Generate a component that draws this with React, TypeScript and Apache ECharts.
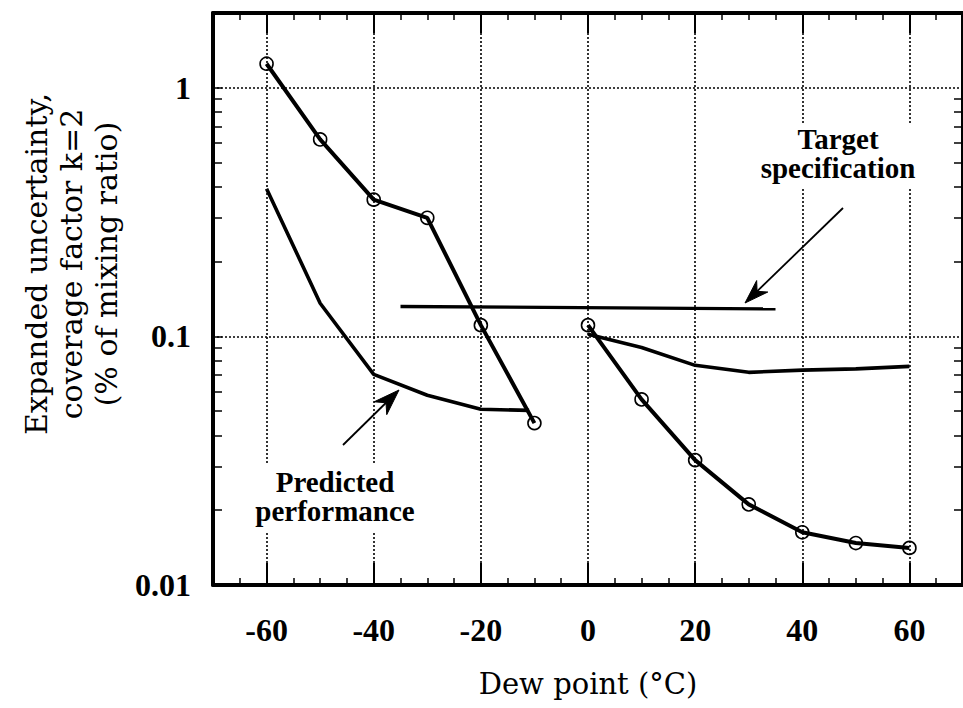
import React, { useEffect, useRef } from "react";
import * as echarts from "echarts";

// ---- data ----
const xTickLabels = [-60, -40, -20, 0, 20, 40, 60];
const yTickLabels = [0.01, 0.1, 1];
const yMinorTicks = [0.02, 0.03, 0.04, 0.05, 0.06, 0.07, 0.08, 0.09, 0.2, 0.3, 0.4, 0.5, 0.6, 0.7, 0.8, 0.9, 2];

const measuredDewLow = [-60, -50, -40, -30, -20, -10];
const measuredLow = [1.25, 0.62, 0.355, 0.3, 0.111, 0.0448];
const measuredDewHigh = [0, 10, 20, 30, 40, 50, 60];
const measuredHigh = [0.111, 0.0558, 0.0318, 0.0211, 0.0163, 0.01475, 0.0141];
const predictedDewLow = [-60, -50, -40, -30, -20, -11];
const predictedLow = [0.393, 0.136, 0.0704, 0.058, 0.0509, 0.0504];
const predictedDewHigh = [0, 10, 20, 30, 40, 50, 60];
const predictedHigh = [0.102, 0.0903, 0.0765, 0.0717, 0.0732, 0.074, 0.0758];
const targetDew = [-35, 35];
const targetSpec = [0.132, 0.129];

const pairs = (xs: number[], ys: number[]) => xs.map((x, i) => [x, ys[i]]);

const BLACK = "#000";
const tickFont = { fontFamily: "Liberation Serif", fontWeight: "bold" as const, fontSize: 32, color: BLACK };
const dotted = { type: [2, 2] as number[], color: BLACK, width: 1.6 };
const noLine = { show: false, onZero: false };

function arrow(x1: number, y1: number, x2: number, y2: number, len: number, half: number) {
  const dx = x2 - x1, dy = y2 - y1;
  const L = Math.hypot(dx, dy);
  const ux = dx / L, uy = dy / L;
  const nx = -uy, ny = ux;
  const bx = x2 - ux * len, by = y2 - uy * len;
  const mx = x2 - ux * len * 0.7, my = y2 - uy * len * 0.7;
  return [
    { type: "line", z: 60, shape: { x1, y1, x2: mx, y2: my }, style: { stroke: BLACK, lineWidth: 1.8 } },
    {
      type: "polygon", z: 61,
      shape: { points: [[x2, y2], [bx + nx * half, by + ny * half], [mx, my], [bx - nx * half, by - ny * half]] },
      style: { fill: BLACK, stroke: BLACK, lineWidth: 1 },
    },
  ];
}

const lineSeries = (name: string, data: number[][], withSymbols: boolean, width: number) => ({
  type: "line",
  name,
  data,
  xAxisIndex: 0,
  yAxisIndex: 0,
  symbol: withSymbols ? "circle" : "none",
  symbolSize: 13,
  showSymbol: withSymbols,
  itemStyle: { color: "rgba(0,0,0,0)", borderColor: BLACK, borderWidth: 1.6 },
  lineStyle: { color: BLACK, width },
  z: 5,
});

const annotationStyle = {
  fontFamily: "Liberation Serif", fontWeight: "bold", fontSize: 29, lineHeight: 29,
  fill: BLACK, align: "center", verticalAlign: "middle",
};

export default function App() {
  const ref = useRef<HTMLDivElement>(null);
  useEffect(() => {
    if (!ref.current) return;
    const chart = echarts.init(ref.current, null, { renderer: "svg" });
    const option: any = {
      animation: false,
      backgroundColor: "#fff",
      grid: { left: 213, right: -4, top: 13, bottom: 123, containLabel: false },
      xAxis: [
        {
          type: "value", position: "bottom", min: -70, max: 70,
          axisLine: { show: true, onZero: false, lineStyle: { color: BLACK, width: 4 } },
          axisTick: { show: true, inside: true, length: 22, customValues: xTickLabels, lineStyle: { color: BLACK, width: 2 } },
          axisLabel: { show: true, customValues: xTickLabels, margin: 29, ...tickFont, formatter: (v: number) => String(v) },
          splitLine: { show: true, lineStyle: dotted },
          name: "Dew point (°C)", nameLocation: "middle", nameGap: 84,
          nameTextStyle: { fontFamily: "DejaVu Serif", fontSize: 29, color: BLACK },
        },
        {
          type: "value", position: "bottom", min: -70, max: 70, interval: 5,
          axisLine: noLine,
          axisTick: { show: true, inside: true, length: 7, lineStyle: { color: BLACK, width: 1.5 } },
          axisLabel: { show: false }, splitLine: { show: false },
        },
        {
          type: "value", position: "top", min: -70, max: 70,
          axisLine: { show: true, onZero: false, lineStyle: { color: BLACK, width: 4 } },
          axisTick: { show: true, inside: true, length: 20, customValues: xTickLabels, lineStyle: { color: BLACK, width: 2 } },
          axisLabel: { show: false }, splitLine: { show: false },
        },
        {
          type: "value", position: "top", min: -70, max: 70, interval: 5,
          axisLine: noLine,
          axisTick: { show: true, inside: true, length: 7, lineStyle: { color: BLACK, width: 1.5 } },
          axisLabel: { show: false }, splitLine: { show: false },
        },
      ],
      yAxis: [
        {
          type: "log", logBase: 10, min: 0.01, max: 2, position: "left",
          axisLine: { show: true, onZero: false, lineStyle: { color: BLACK, width: 4 } },
          axisTick: { show: true, inside: true, length: 9, customValues: yTickLabels, lineStyle: { color: BLACK, width: 1.5 } },
          axisLabel: { show: true, customValues: yTickLabels, margin: 22, ...tickFont, formatter: (v: number) => String(v) },
          splitLine: { show: true, lineStyle: dotted },
        },
        {
          type: "log", logBase: 10, min: 0.01, max: 2, position: "left",
          axisLine: noLine,
          axisTick: { show: true, inside: true, length: 9, customValues: yMinorTicks, lineStyle: { color: BLACK, width: 1.5 } },
          axisLabel: { show: false }, splitLine: { show: false },
        },
        {
          type: "log", logBase: 10, min: 0.01, max: 2, position: "right",
          axisLine: { show: true, onZero: false, lineStyle: { color: BLACK, width: 4 } },
          axisTick: { show: true, inside: true, length: 9, customValues: yMinorTicks, lineStyle: { color: BLACK, width: 1.5 } },
          axisLabel: { show: false }, splitLine: { show: false },
        },
      ],
      series: [
        lineSeries("Predicted low", pairs(predictedDewLow, predictedLow), false, 3.6),
        lineSeries("Predicted high", pairs(predictedDewHigh, predictedHigh), false, 3.6),
        lineSeries("Target specification", pairs(targetDew, targetSpec), false, 3.4),
        lineSeries("Measured low", pairs(measuredDewLow, measuredLow), true, 4),
        lineSeries("Measured high", pairs(measuredDewHigh, measuredHigh), true, 4),
      ],
      graphic: [
        { type: "rect", z: 50, shape: { x: 772, y: 123, width: 152, height: 65 }, style: { fill: "#fff" } },
        { type: "rect", z: 50, shape: { x: 255, y: 465, width: 165, height: 67 }, style: { fill: "#fff" } },
        { type: "text", z: 55, x: 838, y: 153, style: { ...annotationStyle, text: "Target\nspecification" } },
        { type: "text", z: 55, x: 335, y: 496, style: { ...annotationStyle, text: "Predicted\nperformance" } },
        ...arrow(843, 208, 745, 303, 24, 8),
        ...arrow(343, 445, 399, 390, 26, 9),
        {
          type: "text", z: 55, x: 71, y: 264, rotation: Math.PI / 2,
          style: {
            text: "Expanded uncertainty,\ncoverage factor k=2\n(% of mixing ratio)",
            fontFamily: "DejaVu Serif", fontSize: 30, lineHeight: 35, fill: BLACK, align: "center", verticalAlign: "middle",
          },
        },
      ],
    };
    chart.setOption(option);
    return () => chart.dispose();
  }, []);
  return <div ref={ref} style={{ position: "fixed", left: 0, top: 0, width: 963, height: 708, background: "#fff" }} />;
}
